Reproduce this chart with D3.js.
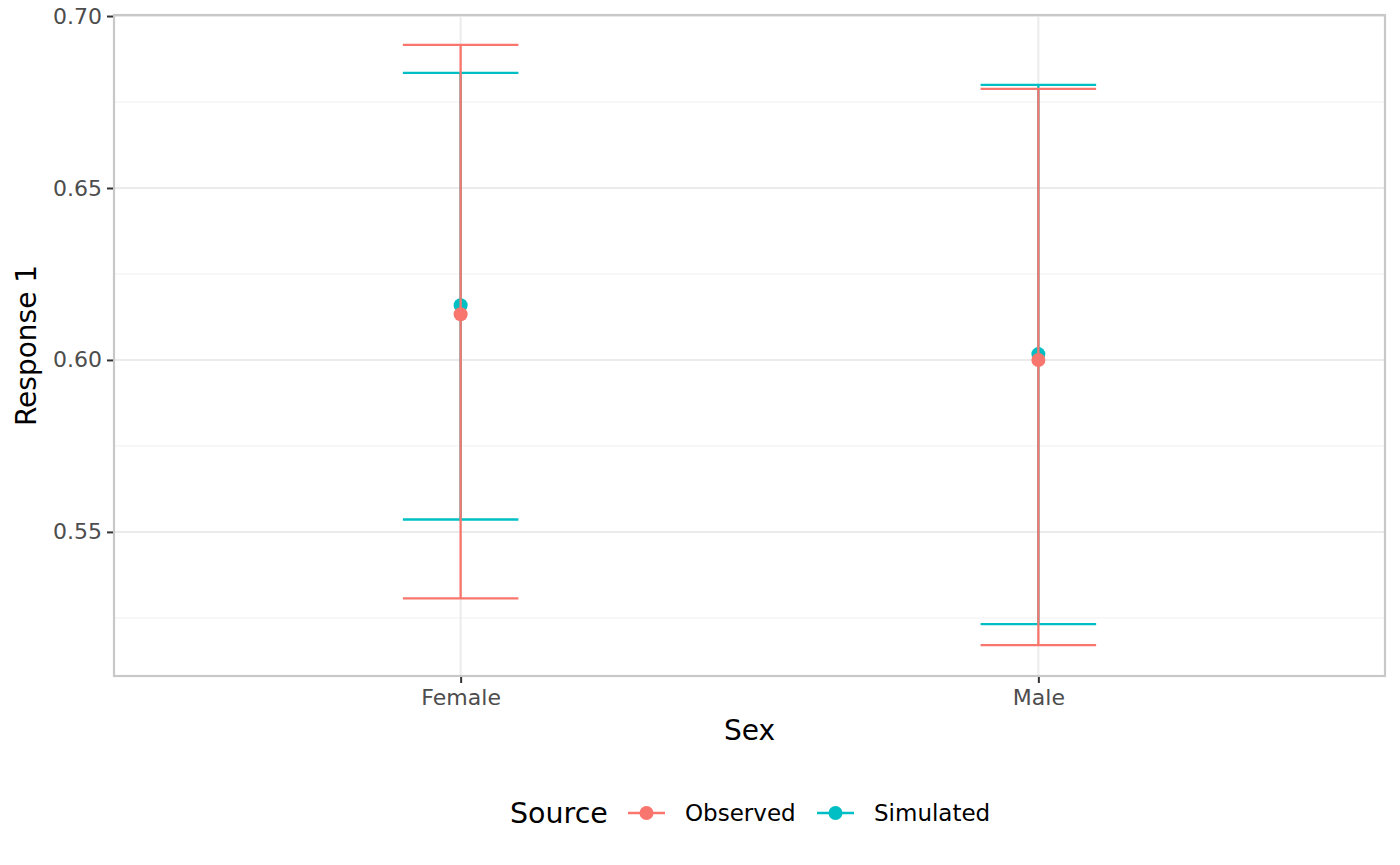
<!DOCTYPE html>
<html lang="en">
<head>
<meta charset="utf-8">
<title>Response 1 by Sex</title>
<script src="https://d3js.org/d3.v7.min.js"></script>
<style>
  body { margin: 0; background: #fff; }
  svg text { font-family: "DejaVu Sans", sans-serif; }
</style>
</head>
<body>
<script>
// data
const sexes = ["Female", "Male"];
const sources = ["Observed", "Simulated"];
const obsMean = [0.6133, 0.6000];
const obsLow  = [0.5307, 0.5171];
const obsHigh = [0.6916, 0.6788];
const simMean = [0.6159, 0.6017];
const simLow  = [0.5536, 0.5232];
const simHigh = [0.6835, 0.6800];
const yTicks = [0.55, 0.60, 0.65, 0.70];
const yMinor = [0.525, 0.575, 0.625, 0.675];

const width = 1400, height = 865;
const pLeft = 114, pRight = 1385, pTop = 15, pBottom = 676;
const colors = {Observed: "#F8766D", Simulated: "#00BFC4"};

const svg = d3.select("body").append("svg")
  .attr("width", width).attr("height", height);

const x = d3.scalePoint().domain(sexes).range([pLeft, pRight]).padding(0.6);
const y = d3.scaleLinear().domain([0.5081, 0.7003]).range([pBottom, pTop]);
const capHalf = x.step() * 0.1;

// grid
svg.append("g").selectAll("line").data(yMinor).join("line")
  .attr("x1", pLeft).attr("x2", pRight)
  .attr("y1", d => y(d)).attr("y2", d => y(d))
  .attr("stroke", "#f0f0f0").attr("stroke-width", 1);
svg.append("g").selectAll("line").data(yTicks).join("line")
  .attr("x1", pLeft).attr("x2", pRight)
  .attr("y1", d => y(d)).attr("y2", d => y(d))
  .attr("stroke", "#ebebeb").attr("stroke-width", 2);
svg.append("g").selectAll("line").data(sexes).join("line")
  .attr("x1", d => x(d)).attr("x2", d => x(d))
  .attr("y1", pTop).attr("y2", pBottom)
  .attr("stroke", "#ebebeb").attr("stroke-width", 2);

// series (simulated underneath, observed on top)
const series = [
  {name: "Simulated", mean: simMean, low: simLow, high: simHigh},
  {name: "Observed", mean: obsMean, low: obsLow, high: obsHigh}
];
series.forEach(s => {
  const rows = sexes.map((k, i) => ({k, m: s.mean[i], lo: s.low[i], hi: s.high[i]}));
  const g = svg.append("g").attr("stroke", colors[s.name]).attr("stroke-width", 2.3);
  g.selectAll(".v").data(rows).join("line").attr("class", "v")
    .attr("x1", d => x(d.k)).attr("x2", d => x(d.k))
    .attr("y1", d => y(d.lo)).attr("y2", d => y(d.hi));
  g.selectAll(".hi").data(rows).join("line").attr("class", "hi")
    .attr("x1", d => x(d.k) - capHalf).attr("x2", d => x(d.k) + capHalf)
    .attr("y1", d => y(d.hi)).attr("y2", d => y(d.hi));
  g.selectAll(".lo").data(rows).join("line").attr("class", "lo")
    .attr("x1", d => x(d.k) - capHalf).attr("x2", d => x(d.k) + capHalf)
    .attr("y1", d => y(d.lo)).attr("y2", d => y(d.lo));
  svg.append("g").selectAll("circle").data(rows).join("circle")
    .attr("cx", d => x(d.k)).attr("cy", d => y(d.m)).attr("r", 7)
    .attr("fill", colors[s.name]);
});

// panel border
svg.append("rect")
  .attr("x", pLeft).attr("y", pTop)
  .attr("width", pRight - pLeft).attr("height", pBottom - pTop)
  .attr("fill", "none").attr("stroke", "#c8c8c8").attr("stroke-width", 2.2);

// axes
const yAxis = svg.append("g").attr("transform", `translate(${pLeft - 1},0)`)
  .call(d3.axisLeft(y).tickValues(yTicks).tickFormat(d3.format(".2f")).tickSize(6).tickPadding(5));
const xAxis = svg.append("g").attr("transform", `translate(0,${pBottom + 1})`)
  .call(d3.axisBottom(x).tickSize(6).tickPadding(6));
[yAxis, xAxis].forEach(a => {
  a.select(".domain").remove();
  a.selectAll(".tick line").attr("stroke", "#333333").attr("stroke-width", 2);
  a.selectAll(".tick text").attr("fill", "#4d4d4d").style("font-size", "22px");
});

// axis titles
svg.append("text").attr("x", (pLeft + pRight) / 2).attr("y", 740)
  .attr("text-anchor", "middle").style("font-size", "28px").attr("fill", "#000")
  .text("Sex");
svg.append("text").attr("transform", `translate(36,${(pTop + pBottom) / 2}) rotate(-90)`)
  .attr("text-anchor", "middle").style("font-size", "28px").attr("fill", "#000")
  .text("Response 1");

// legend
const legend = svg.append("g").attr("transform", "translate(510,813)");
legend.append("text").attr("x", 0).attr("y", 10).style("font-size", "28.5px").text("Source");
const keyX = [118, 307];
sources.forEach((s, i) => {
  const kg = legend.append("g").attr("transform", `translate(${keyX[i]},0)`);
  kg.append("line").attr("x1", 0).attr("x2", 37).attr("y1", 0).attr("y2", 0)
    .attr("stroke", colors[s]).attr("stroke-width", 2.3);
  kg.append("circle").attr("cx", 18.5).attr("cy", 0).attr("r", 7).attr("fill", colors[s]);
  kg.append("text").attr("x", 57).attr("y", 8).style("font-size", "23px").text(s);
});
</script>
</body>
</html>
